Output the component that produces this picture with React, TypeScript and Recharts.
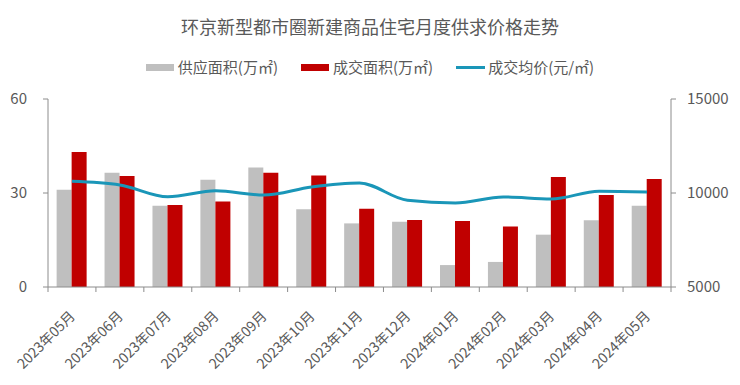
import React from 'react';
import { ComposedChart, Bar, Line, XAxis, YAxis, Legend } from 'recharts';

const months = [
  '2023年05月', '2023年06月', '2023年07月', '2023年08月', '2023年09月', '2023年10月', '2023年11月',
  '2023年12月', '2024年01月', '2024年02月', '2024年03月', '2024年04月', '2024年05月',
];
const supplyArea = [31.0, 36.5, 25.9, 34.2, 38.1, 24.8, 20.3, 20.8, 7.0, 8.0, 16.7, 21.3, 25.9];
const dealArea = [43.1, 35.4, 26.2, 27.3, 36.5, 35.6, 25.0, 21.4, 21.1, 19.3, 35.1, 29.4, 34.5];
const avgPrice = [10620, 10430, 9800, 10120, 9890, 10320, 10530, 9610, 9470, 9790, 9680, 10090, 10050];
const leftTicks = [0, 30, 60];
const rightTicks = [5000, 10000, 15000];

const data = months.map((m, i) => ({
  month: m,
  supply: supplyArea[i],
  deal: dealArea[i],
  price: avgPrice[i],
}));

const FONT = '"Microsoft YaHei", "Noto Sans CJK SC", sans-serif';
const TEXT = '#595959';
const AXIS = '#8c8c8c';
const GRAY = '#bfbfbf';
const RED = '#c00000';
const BLUE = '#1a96b8';

const W = 740;
const H = 385;
const PLOT_LEFT = 48;
const PLOT_RIGHT = 671;
const BAND = (PLOT_RIGHT - PLOT_LEFT) / months.length;

const MonthTick = (props: any) => {
  const { x, y, payload, index } = props;
  const left = x - BAND / 2;
  const tx = x + 4;
  const ty = y + 22;
  return (
    <g>
      <line x1={left} y1={y - 8} x2={left} y2={y - 3} stroke={AXIS} />
      {index === months.length - 1 && (
        <line x1={x + BAND / 2} y1={y - 8} x2={x + BAND / 2} y2={y - 3} stroke={AXIS} />
      )}
      <text
        x={tx}
        y={ty}
        textAnchor="end"
        transform={`rotate(-45, ${tx}, ${ty})`}
        fill={TEXT}
        fontSize={14}
        fontFamily={FONT}
      >
        {payload.value}
      </text>
    </g>
  );
};

const legendItems = [
  { label: '供应面积(万㎡)', color: GRAY, kind: 'rect' },
  { label: '成交面积(万㎡)', color: RED, kind: 'rect' },
  { label: '成交均价(元/㎡)', color: BLUE, kind: 'line' },
];

const ChartLegend = () => (
  <div
    style={{
      display: 'flex',
      justifyContent: 'center',
      gap: 23,
      fontFamily: FONT,
      fontSize: 15,
      lineHeight: '16px',
      color: TEXT,
    }}
  >
    {legendItems.map((it) => (
      <div key={it.label} style={{ display: 'flex', alignItems: 'center' }}>
        {it.kind === 'rect' ? (
          <span style={{ display: 'inline-block', width: 28, height: 7, background: it.color, marginRight: 4 }} />
        ) : (
          <span style={{ display: 'inline-block', width: 29, height: 3, background: it.color, marginRight: 3 }} />
        )}
        <span>{it.label}</span>
      </div>
    ))}
  </div>
);

export default function App() {
  return (
    <div style={{ position: 'absolute', left: 0, top: 0, width: W, height: H, background: '#fff' }}>
      <div
        style={{
          position: 'absolute',
          top: 17,
          width: W,
          textAlign: 'center',
          fontFamily: FONT,
          fontSize: 18,
          lineHeight: '18px',
          color: TEXT,
          zIndex: 1,
        }}
      >
        环京新型都市圈新建商品住宅月度供求价格走势
      </div>
      <ComposedChart
        width={W}
        height={H}
        data={data}
        margin={{ top: 99, right: 0, bottom: 0, left: 0 }}
        barCategoryGap="18%"
        barGap={0}
      >
        <XAxis
          dataKey="month"
          height={98}
          stroke={AXIS}
          tickLine={false}
          interval={0}
          tick={<MonthTick />}
        />
        <YAxis
          yAxisId="left"
          width={PLOT_LEFT}
          domain={[0, 60]}
          ticks={leftTicks}
          stroke={AXIS}
          tickSize={5}
          tickMargin={16}
          tick={{ fill: TEXT, fontSize: 15, fontFamily: FONT }}
        />
        <YAxis
          yAxisId="right"
          orientation="right"
          width={W - PLOT_RIGHT}
          domain={[5000, 15000]}
          ticks={rightTicks}
          stroke={AXIS}
          tickSize={5}
          tickMargin={11}
          tick={{ fill: TEXT, fontSize: 15, fontFamily: FONT }}
        />
        <Legend
          verticalAlign="middle"
          layout="horizontal"
          wrapperStyle={{ top: 59, left: 0, width: W }}
          content={<ChartLegend />}
        />
        <Bar yAxisId="left" dataKey="supply" name="供应面积(万㎡)" fill={GRAY} isAnimationActive={false} />
        <Bar yAxisId="left" dataKey="deal" name="成交面积(万㎡)" fill={RED} isAnimationActive={false} />
        <Line
          yAxisId="right"
          dataKey="price"
          name="成交均价(元/㎡)"
          type="monotone"
          stroke={BLUE}
          strokeWidth={3}
          dot={false}
          isAnimationActive={false}
        />
      </ComposedChart>
    </div>
  );
}
